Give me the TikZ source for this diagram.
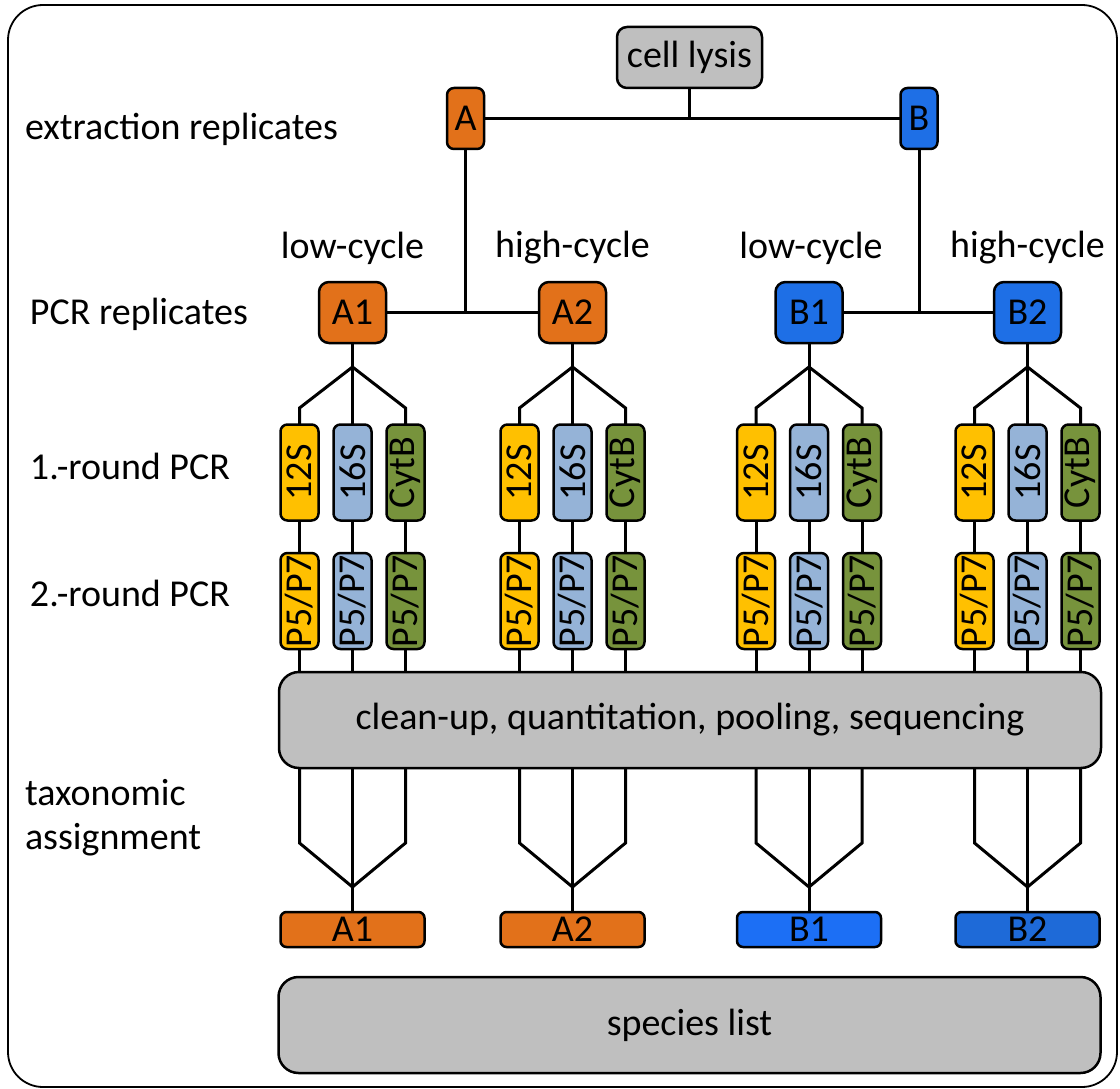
\documentclass[tikz,border=0pt]{standalone}
\usepackage{fontspec}
\setmainfont{Carlito}
\definecolor{orA}{HTML}{E2711A}
\definecolor{blB}{HTML}{1E6FE6}
\definecolor{blB1}{HTML}{1C6FF5}
\definecolor{blB2}{HTML}{1E6AD8}
\definecolor{yel}{HTML}{FFC000}
\definecolor{lblue}{HTML}{95B3D7}
\definecolor{grn}{HTML}{77933C}
\definecolor{gry}{HTML}{BFBFBF}
\begin{document}
\begin{tikzpicture}[x=1pt,y=-1pt,
  every node/.style={font=\fontsize{38}{44}\selectfont, inner sep=0pt, outer sep=0pt},
  box/.style={draw, line width=2.5pt, rounded corners=10pt, align=center},
  subbox/.style={box, rounded corners=7pt, minimum width=38pt, minimum height=96pt},
  resbox/.style={box, rounded corners=6pt, minimum width=144pt, minimum height=35pt},
  bigbox/.style={box, fill=gry, rounded corners=20pt, minimum width=822pt, minimum height=96pt},
  ln/.style={line width=3pt},
  lbl/.style={anchor=west, align=left}]
\useasboundingbox (0,0) rectangle (1120,1089);
\draw[line width=1.8pt, rounded corners=35pt] (8,5) rectangle (1117,1087);

% top
\node[box, fill=gry, minimum width=145pt, minimum height=61pt] (lysis) at (689.5,57.5) {cell lysis};
\node[box, fill=orA, rounded corners=7pt, minimum width=37pt, minimum height=61pt] (A) at (465.5,118.5) {A};
\node[box, fill=blB, rounded corners=7pt, minimum width=37pt, minimum height=61pt] (B) at (919,118.5) {B};
\draw[ln] (A.east) -- (B.west);
\draw[ln] (lysis.south) -- (lysis.south |- A.east);

% big boxes
\node[bigbox] (clean) at (690,720) {clean-up, quantitation, pooling, sequencing};
\node[bigbox] (species) at (689.5,1025) {species list};

% labels
\node[lbl] (l1) at (25,129) {extraction replicates};
\node[lbl] (l2) at (30,314) {PCR replicates};
\node[lbl] (l3) at (30,466) {1.-round PCR};
\node[lbl] (l4) at (30,593) {2.-round PCR};
\node[lbl] (l5) at (25,818) {taxonomic\\assignment};
\node (c1) at (352.5,248) {low-cycle};
\node (c2) at (572.5,248) {high-cycle};
\node (c3) at (811,248) {low-cycle};
\node (c4) at (1027.5,248) {high-cycle};

% groups
\foreach \g/\cx/\col/\rcol in {A1/352.5/orA/orA, A2/572.5/orA/orA, B1/809/blB/blB1, B2/1027.5/blB/blB2}{
  \node[box, fill=\col, minimum width=67pt, minimum height=61pt] (\g) at (\cx,312.5) {\g};
  \node[subbox, fill=yel] (\g-s1) at (\cx-53,472.5) {\rotatebox{90}{12S}};
  \node[subbox, fill=lblue] (\g-s2) at (\cx,472.5) {\rotatebox{90}{16S}};
  \node[subbox, fill=grn] (\g-s3) at (\cx+53,472.5) {\rotatebox{90}{CytB}};
  \node[subbox, fill=yel] (\g-p1) at (\cx-53,601) {\rotatebox{90}{P5/P7}};
  \node[subbox, fill=lblue] (\g-p2) at (\cx,601) {\rotatebox{90}{P5/P7}};
  \node[subbox, fill=grn] (\g-p3) at (\cx+53,601) {\rotatebox{90}{P5/P7}};
  \node[resbox, fill=\rcol] (\g-r) at (\cx,929.5) {\g};
  \coordinate (\g-j) at (\cx,367);
  \coordinate (\g-k) at (\cx,887);
  \draw[ln] (\g.south) -- (\g-j);
  \draw[ln] (\g-j) -- (\g-s1.north |- 0,408) -- (\g-s1.north);
  \draw[ln] (\g-j) -- (\g-s2.north);
  \draw[ln] (\g-j) -- (\g-s3.north |- 0,408) -- (\g-s3.north);
  \foreach \i in {1,2,3}{
    \draw[ln] (\g-s\i.south) -- (\g-p\i.north);
    \draw[ln] (\g-p\i.south) -- (\g-p\i.south |- clean.north);
  }
  \draw[ln] (\g-p1.south |- clean.south) -- (\g-p1.south |- 0,843) -- (\g-k);
  \draw[ln] (\g-p3.south |- clean.south) -- (\g-p3.south |- 0,843) -- (\g-k);
  \draw[ln] (\g-p2.south |- clean.south) -- (\g-r.north);
}
\draw[ln] (A.south) -- (A.south |- A1.east);
\draw[ln] (A1.east) -- (A2.west);
\draw[ln] (B.south) -- (B.south |- B1.east);
\draw[ln] (B1.east) -- (B2.west);
\end{tikzpicture}
\end{document}
